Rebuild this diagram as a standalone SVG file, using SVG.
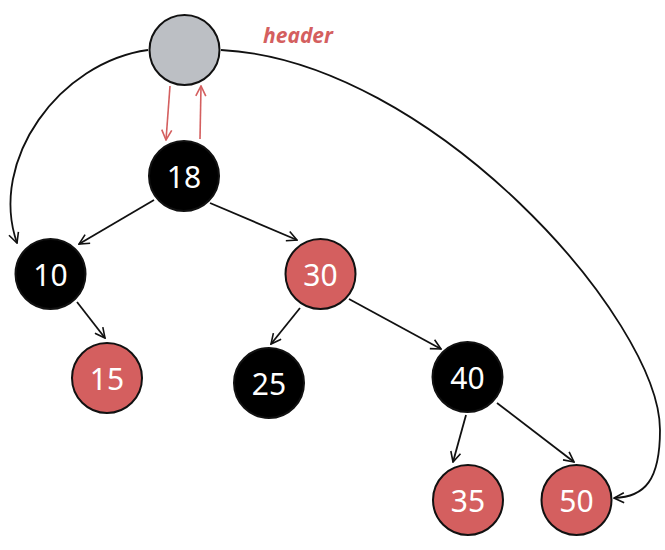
<svg xmlns="http://www.w3.org/2000/svg" width="665" height="550" viewBox="0 0 665 550">
<defs>
<style>
.nd{stroke:#111;stroke-width:2}
.blk{fill:#000}
.red{fill:#d45f5f}
.hdr{fill:#bcbfc4}
.lbl{font-family:"Noto Sans","Open Sans",sans-serif;font-size:30px;fill:#fff;text-anchor:middle;dominant-baseline:central}
.edge{fill:none;stroke:#111;stroke-width:1.8;marker-end:url(#ah)}
.redge{fill:none;stroke:#d45f5f;stroke-width:1.6;marker-end:url(#rah)}
</style>
<marker id="ah" viewBox="0 0 12 12" refX="11" refY="6" markerWidth="12" markerHeight="12" markerUnits="userSpaceOnUse" orient="auto">
<path d="M1,1 L11,6 L1,11" fill="none" stroke="#111" stroke-width="1.6"/>
</marker>
<marker id="rah" viewBox="0 0 12 12" refX="11" refY="6" markerWidth="12" markerHeight="12" markerUnits="userSpaceOnUse" orient="auto">
<path d="M1,1 L11,6 L1,11" fill="none" stroke="#d45f5f" stroke-width="1.6"/>
</marker>
</defs>
<rect width="665" height="550" fill="#fff"/>
<g id="connectors">
<path class="edge" d="M148,50 C60,62 -12,160 17,243"/>
<path class="edge" d="M221,50 C430,60 660,320 660,430 C660,480 645,497 614,498"/>
<path class="redge" d="M170,86 L166,140"/>
<path class="redge" d="M200,139 L201,86"/>
<path class="edge" d="M154,200 L79,244"/>
<path class="edge" d="M210,203 L297,240"/>
<path class="edge" d="M77,302 L105,338"/>
<path class="edge" d="M300,308 L271,344"/>
<path class="edge" d="M349,299 L441,349"/>
<path class="edge" d="M466,415 L453,462"/>
<path class="edge" d="M497,403 L574,462"/>
</g>
<g id="header"><circle class="nd hdr" cx="184.5" cy="50" r="35"/><text x="298" y="35" font-family="'Noto Sans','Open Sans',sans-serif" font-size="21" font-style="italic" font-weight="bold" fill="#d45f5f" text-anchor="middle" dominant-baseline="central">header</text></g>
<g id="n18"><circle class="nd blk" cx="184" cy="176" r="35"/><text class="lbl" x="184" y="176">18</text></g>
<g id="n10"><circle class="nd blk" cx="50.5" cy="274" r="35"/><text class="lbl" x="50.5" y="274">10</text></g>
<g id="n30"><circle class="nd red" cx="320.5" cy="274" r="35"/><text class="lbl" x="320.5" y="274">30</text></g>
<g id="n15"><circle class="nd red" cx="107" cy="378" r="35"/><text class="lbl" x="107" y="378">15</text></g>
<g id="n25"><circle class="nd blk" cx="269" cy="383" r="35"/><text class="lbl" x="269" y="383">25</text></g>
<g id="n40"><circle class="nd blk" cx="467.5" cy="377" r="35"/><text class="lbl" x="467.5" y="377">40</text></g>
<g id="n35"><circle class="nd red" cx="468" cy="500" r="35"/><text class="lbl" x="468" y="500">35</text></g>
<g id="n50"><circle class="nd red" cx="576.5" cy="500" r="35"/><text class="lbl" x="576.5" y="500">50</text></g>
</svg>
